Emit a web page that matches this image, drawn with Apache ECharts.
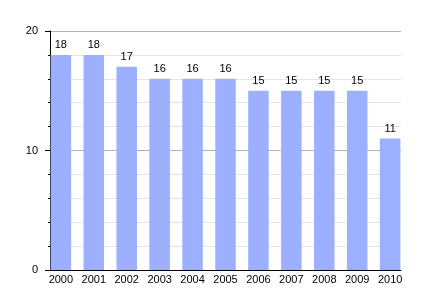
<!DOCTYPE html>
<html><head><meta charset="utf-8">
<script src="https://cdn.jsdelivr.net/npm/echarts@6/dist/echarts.min.js"></script>
<style>html,body{margin:0;padding:0;background:#fff}#c{width:430px;height:300px}</style>
</head><body><div id="c"></div>
<script>
var years = ['2000','2001','2002','2003','2004','2005','2006','2007','2008','2009','2010'];
var values = [18,18,17,16,16,16,15,15,15,15,11];
var yTicks = [0,10,20];

var chart = echarts.init(document.getElementById('c'), null, {renderer:'canvas'});
var idx = years.map(function(_, i){ return i; });
chart.setOption({
  animation: false,
  textStyle: {fontFamily: 'Liberation Sans, Arial, sans-serif'},
  grid: {left: 50, right: 29, top: 31, bottom: 30},
  xAxis: {
    type: 'value', min: -0.33, max: 10.33,
    axisLine: {show: true, onZero: false, lineStyle: {color: '#000', width: 1}},
    axisTick: {show: false},
    splitLine: {show: false},
    axisLabel: {
      customValues: idx, margin: 4, color: '#000', fontSize: 11,
      fontFamily: 'Liberation Sans, Arial, sans-serif',
      formatter: function(v){ return years[Math.round(v)]; }
    }
  },
  yAxis: {
    type: 'value', min: 0, max: 20, interval: 10,
    axisLine: {show: true, onZero: false, lineStyle: {color: '#000', width: 1}},
    axisTick: {show: true, length: 5, lineStyle: {color: '#000'}},
    minorTick: {show: true, splitNumber: 5, length: 2, lineStyle: {color: '#000'}},
    splitLine: {show: true, lineStyle: {color: '#b0b0b0', width: 1}},
    minorSplitLine: {show: true, lineStyle: {color: '#e4e4e4', width: 1}},
    axisLabel: {margin: 12, color: '#000', fontSize: 11,
      fontFamily: 'Liberation Sans, Arial, sans-serif',
      customValues: yTicks}
  },
  series: [{
    type: 'bar',
    barWidth: 20.5,
    data: values.map(function(v, i){ return [idx[i], v]; }),
    itemStyle: {color: '#9dafff'},
    label: {show: true, position: 'top', distance: 4, color: '#000', fontSize: 11,
      fontFamily: 'Liberation Sans, Arial, sans-serif',
      formatter: function(p){ return p.value[1]; }}
  }]
});
</script></body></html>
